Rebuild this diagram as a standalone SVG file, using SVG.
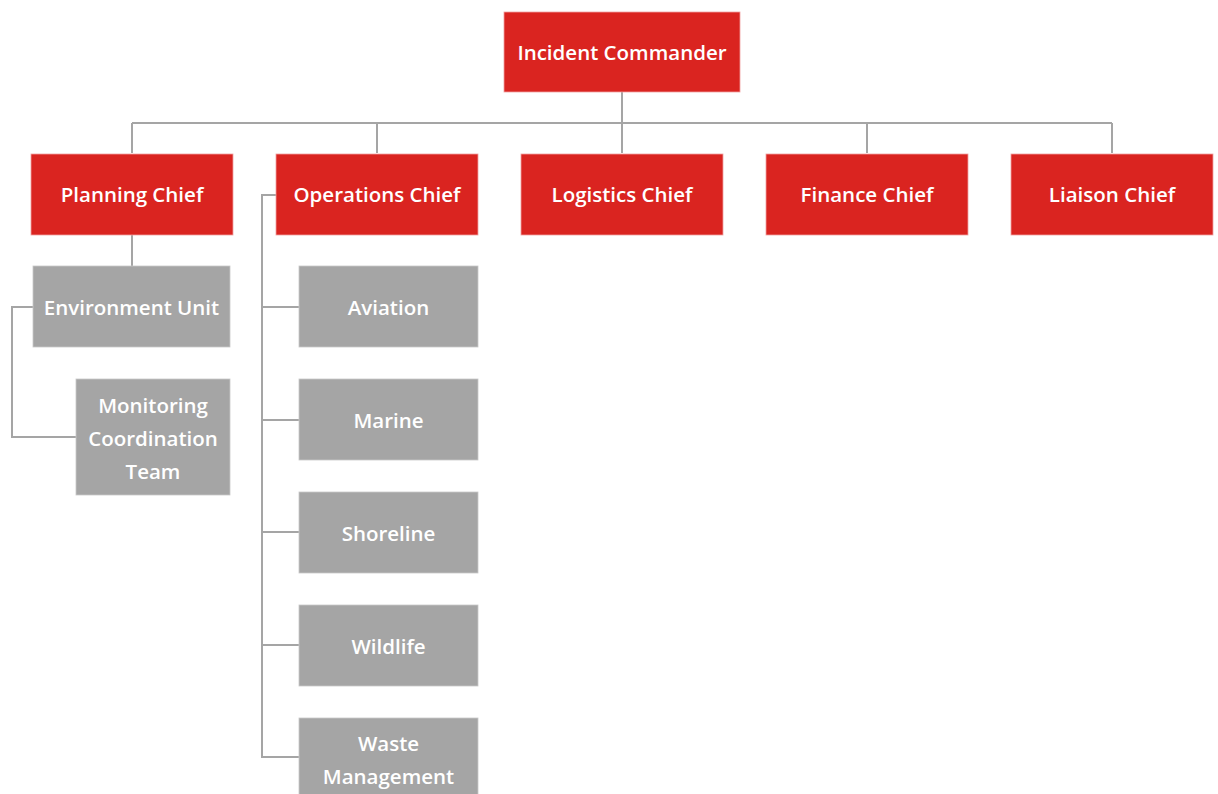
<svg xmlns="http://www.w3.org/2000/svg" width="1218" height="794" viewBox="0 0 1218 794">
<style>
.red{fill:#DA2420;stroke:#F0A0A0;stroke-width:0.8}
.gray{fill:#A5A5A5;stroke:#C8C8C8;stroke-width:0.8}
.t{font-family:"Open Sans","Liberation Sans",sans-serif;font-weight:600;font-size:20.5px;fill:#FFFFFF;text-anchor:middle}
.c{fill:none;stroke:#A5A5A5;stroke-width:2}
</style>
<rect width="1218" height="794" fill="#FFFFFF"/>
<g id="connectors">
<path class="c" d="M622 92V123M132 123H1112M132 123V153M377 123V153M622 123V153M867 123V153M1112 123V153"/>
<path class="c" d="M132 235V266"/>
<path class="c" d="M33 307H12V437H76"/>
<path class="c" d="M276 195H262V757H299M262 307H299M262 420H299M262 532H299M262 645H299"/>
</g>
<g id="incident-commander"><rect class="red" x="504" y="12" width="236" height="80"/><text class="t" x="622" y="60">Incident Commander</text></g>
<g id="planning-chief"><rect class="red" x="31" y="154" width="202" height="81"/><text class="t" x="132" y="202">Planning Chief</text></g>
<g id="operations-chief"><rect class="red" x="276" y="154" width="202" height="81"/><text class="t" x="377" y="202">Operations Chief</text></g>
<g id="logistics-chief"><rect class="red" x="521" y="154" width="202" height="81"/><text class="t" x="622" y="202">Logistics Chief</text></g>
<g id="finance-chief"><rect class="red" x="766" y="154" width="202" height="81"/><text class="t" x="867" y="202">Finance Chief</text></g>
<g id="liaison-chief"><rect class="red" x="1011" y="154" width="202" height="81"/><text class="t" x="1112" y="202">Liaison Chief</text></g>
<g id="environment-unit"><rect class="gray" x="33" y="266" width="197" height="81"/><text class="t" x="131.5" y="315">Environment Unit</text></g>
<g id="monitoring-coordination-team"><rect class="gray" x="76" y="379" width="154" height="116"/><text class="t" x="153" y="413">Monitoring</text><text class="t" x="153" y="446">Coordination</text><text class="t" x="153" y="479">Team</text></g>
<g id="aviation"><rect class="gray" x="299" y="266" width="179" height="81"/><text class="t" x="388.5" y="315">Aviation</text></g>
<g id="marine"><rect class="gray" x="299" y="379" width="179" height="81"/><text class="t" x="388.5" y="428">Marine</text></g>
<g id="shoreline"><rect class="gray" x="299" y="492" width="179" height="81"/><text class="t" x="388.5" y="541">Shoreline</text></g>
<g id="wildlife"><rect class="gray" x="299" y="605" width="179" height="81"/><text class="t" x="388.5" y="654">Wildlife</text></g>
<g id="waste-management"><rect class="gray" x="299" y="718" width="179" height="90"/><text class="t" x="388.5" y="751">Waste</text><text class="t" x="388.5" y="784">Management</text></g>
</svg>
